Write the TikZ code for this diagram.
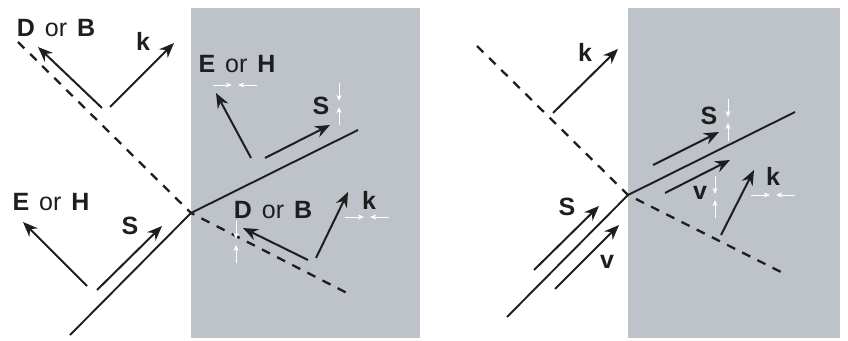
\documentclass[tikz,border=0pt]{standalone}
\usepackage{fontspec}
\setmainfont{Liberation Sans}
\usetikzlibrary{arrows.meta}
\definecolor{slab}{RGB}{190,195,201}
\definecolor{ink}{RGB}{30,30,30}
\tikzset{
  vec/.style={ink, line width=2pt, -{Stealth[length=15pt,width=12pt,inset=5pt]}},
  ray/.style={ink, line width=1.9pt},
  front/.style={ink, line width=2.3pt, dash pattern=on 9pt off 8pt},
  pin/.style={white, line width=1pt, -{Stealth[length=6pt,width=5pt,inset=1.5pt]}},
  lab/.style={text=ink, font=\fontsize{25}{28}\selectfont, inner sep=0pt},
  hpins/.pic={
    \coordinate (-a) at (-22,0); \coordinate (-b) at (-3,0);
    \coordinate (-c) at (22,0);  \coordinate (-d) at (3,0);
    \draw[pin] (-a) -- (-b); \draw[pin] (-c) -- (-d);
  },
  vpins/.pic={
    \coordinate (-a) at (0,-21); \coordinate (-b) at (0,-3);
    \coordinate (-c) at (0,21);  \coordinate (-d) at (0,3);
    \draw[pin] (-a) -- (-b); \draw[pin] (-c) -- (-d);
  },
}
\newcommand{\orlab}[2]{\textbf{#1}\hspace{10pt}or\hspace{10pt}\textbf{#2}}
\begin{document}
\begin{tikzpicture}[x=1pt,y=-1pt]
\useasboundingbox (0,0) rectangle (848,340);
% media
\fill[slab] (191,8) rectangle (420,338);
\fill[slab] (628,8) rectangle (840,338);

% ---------- left panel ----------
\coordinate (O1) at (191,213);
\coordinate (inc1) at (70,335);
\coordinate (ref1) at (358,130);
\coordinate (wf1a) at (18,42);
\coordinate (wf1b) at (347,293);
\draw[front] (wf1a) -- (O1) -- (wf1b);
\draw[ray] (inc1) -- (O1) -- (ref1);

\coordinate (db1s) at (102,108); \coordinate (db1e) at (38,47);
\coordinate (k1s) at (110,107);  \coordinate (k1e) at (174,43);
\coordinate (eh1s) at (87,286);  \coordinate (eh1e) at (23,222);
\coordinate (s1s) at (97,290);   \coordinate (s1e) at (162,226);
\coordinate (eh2s) at (251,158); \coordinate (eh2e) at (216,93);
\coordinate (s2s) at (265,158);  \coordinate (s2e) at (330,125);
\coordinate (db2s) at (308,260); \coordinate (db2e) at (243,228);
\coordinate (k2s) at (316,258);  \coordinate (k2e) at (348,192);
\draw[vec] (db1s) -- (db1e);
\draw[vec] (k1s) -- (k1e);
\draw[vec] (eh1s) -- (eh1e);
\draw[vec] (s1s) -- (s1e);
\draw[vec] (eh2s) -- (eh2e);
\draw[vec] (s2s) -- (s2e);
\draw[vec] (db2s) -- (db2e);
\draw[vec] (k2s) -- (k2e);

\node[lab] (Ldb1) at (56,28) {\orlab{D}{B}};
\node[lab] (Lk1) at (143,41) {\textbf{k}};
\node[lab] (Leh1) at (51,202) {\orlab{E}{H}};
\node[lab] (Ls1) at (130,226) {\textbf{S}};
\node[lab] (Leh2) at (237,64) {\orlab{E}{H}};
\node[lab] (Ls2) at (321,106) {\textbf{S}};
\node[lab] (Ldb2) at (273,210) {\orlab{D}{B}};
\node[lab] (Lk2) at (369,200) {\textbf{k}};

\pic (p1) at (235,85) {hpins};
\pic (p2) at (339,104) {vpins};
\pic (p3) at (236,242) {vpins};
\pic (p4) at (367,217) {hpins};

% ---------- right panel ----------
\coordinate (O2) at (628,195);
\coordinate (inc2) at (507,317);
\coordinate (ref2) at (795,112);
\coordinate (wf2a) at (477,46);
\coordinate (wf2b) at (783,273);
\draw[front] (wf2a) -- (O2) -- (wf2b);
\draw[ray] (inc2) -- (O2) -- (ref2);

\coordinate (k3s) at (553,113); \coordinate (k3e) at (618,49);
\coordinate (s3s) at (534,270); \coordinate (s3e) at (599,206);
\coordinate (v3s) at (555,289); \coordinate (v3e) at (619,225);
\coordinate (s4s) at (653,165); \coordinate (s4e) at (719,132);
\coordinate (v4s) at (665,193); \coordinate (v4e) at (730,160);
\coordinate (k4s) at (721,235); \coordinate (k4e) at (754,170);
\draw[vec] (k3s) -- (k3e);
\draw[vec] (s3s) -- (s3e);
\draw[vec] (v3s) -- (v3e);
\draw[vec] (s4s) -- (s4e);
\draw[vec] (v4s) -- (v4e);
\draw[vec] (k4s) -- (k4e);

\node[lab] (Lk3) at (585,52) {\textbf{k}};
\node[lab] (Ls3) at (567,207) {\textbf{S}};
\node[lab] (Lv3) at (607,262) {\textbf{v}};
\node[lab] (Ls4) at (709,116) {\textbf{S}};
\node[lab] (Lv4) at (700,193) {\textbf{v}};
\node[lab] (Lk4) at (773,176) {\textbf{k}};

\pic (p5) at (728,120) {vpins};
\pic (p6) at (715,197) {vpins};
\pic (p7) at (773,195) {hpins};
\end{tikzpicture}
\end{document}
